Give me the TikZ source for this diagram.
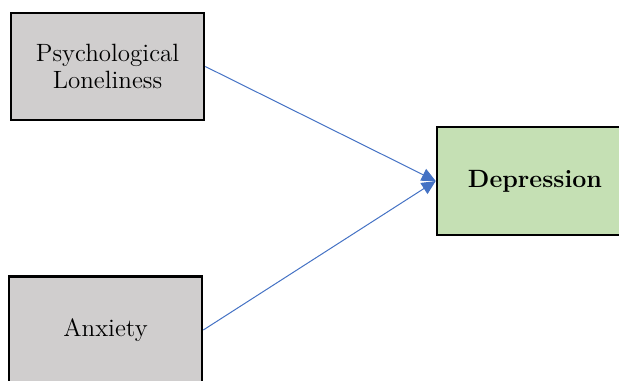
\documentclass[tikz,border=0pt]{standalone}
\usepackage{tikz}
\usetikzlibrary{arrows.meta}
\definecolor{boxgray}{HTML}{D0CECE}
\definecolor{boxgreen}{HTML}{C5E0B4}
\definecolor{linkblue}{HTML}{4472C4}

\begin{document}
\begin{tikzpicture}[x=0.5pt, y=-0.5pt, >={Triangle[length=7pt, width=6.5pt]}, every node/.style={font=\fontsize{12.5}{13.5}\selectfont}]
\tikzstyle{block}=[rectangle, draw, line width=1.3pt, align=center, minimum width=96.5pt, minimum height=53.5pt, fill=boxgray]
\useasboundingbox (0,0) rectangle (619,380);
\clip (0,0) rectangle (619,380);
\node[block] (lonely) at (107.5,66.5) {Psychological\\Loneliness};
\node[block] (anx) at (105.5,330) {Anxiety};
\node[block, fill=boxgreen, minimum width=98pt, minimum height=54pt, font=\fontsize{12.5}{13.5}\selectfont\bfseries] (dep) at (535,181) {Depression};
\draw[->, linkblue, line width=0.5pt] (lonely.east) -- (dep.west);
\draw[->, linkblue, line width=0.5pt] (anx.east) -- (dep.west);
\end{tikzpicture}
\end{document}
